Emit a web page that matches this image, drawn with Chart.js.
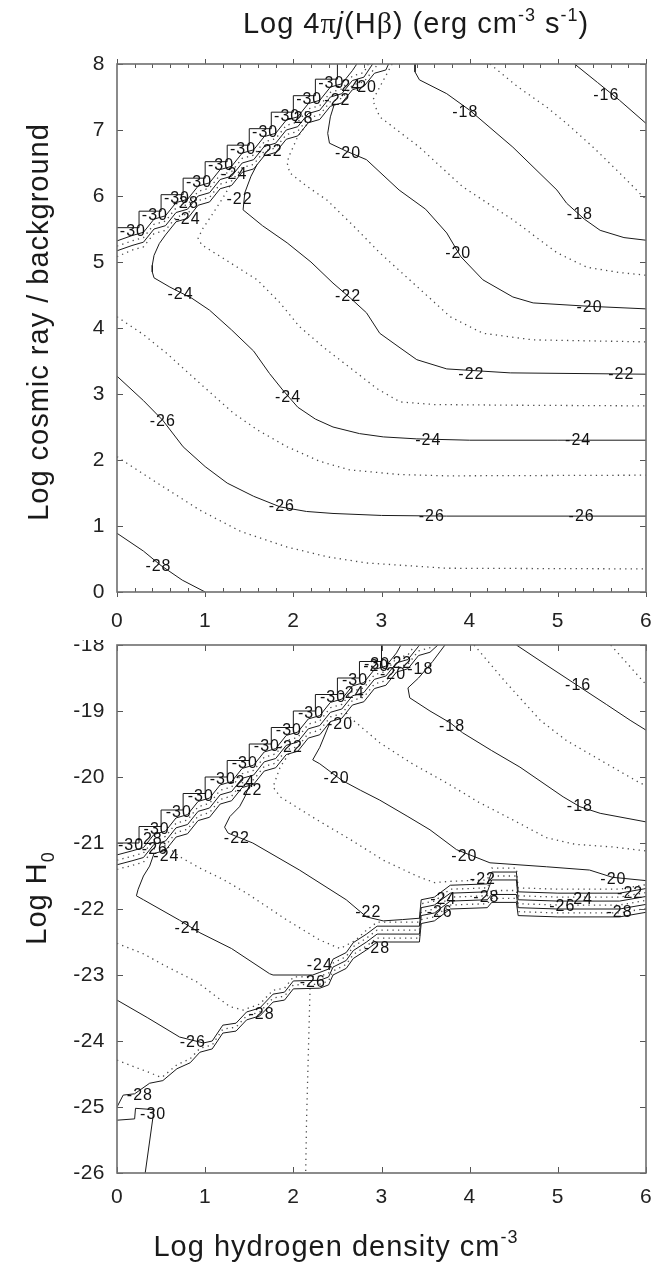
<!DOCTYPE html>
<html>
<head>
<meta charset="utf-8">
<script src="https://cdn.jsdelivr.net/npm/chart.js@4.4.0/dist/chart.umd.min.js"></script>
<style>
  body { margin: 0; background: #fff; }
  #wrap { position: relative; width: 670px; height: 1267px; }
  canvas { position: absolute; left: 0; }
</style>
</head>
<body>
<div id="wrap">
  <canvas id="topChart" width="670" height="640" style="top:0"></canvas>
  <canvas id="botChart" width="670" height="627" style="top:640px"></canvas>
</div>
<script>
// axis ticks
const xTicks = [0, 1, 2, 3, 4, 5, 6];
const xMinorTicks = [0.2, 0.4, 0.6, 0.8, 1.2, 1.4, 1.6, 1.8, 2.2, 2.4, 2.6, 2.8, 3.2, 3.4, 3.6, 3.8, 4.2, 4.4, 4.6, 4.8, 5.2, 5.4, 5.6, 5.8];
const topYTicks = [0, 1, 2, 3, 4, 5, 6, 7, 8];
const botYTicks = [-26, -25, -24, -23, -22, -21, -20, -19, -18];

// ---- top panel: log cosmic ray / background vs log n(H) ----
const top_stairs = [[0,5.52],[0.25,5.52],[0.25,5.77],[0.5,5.77],[0.5,6.02],[0.75,6.02],[0.75,6.27],[1,6.27],[1,6.52],[1.25,6.52],[1.25,6.77],[1.5,6.77],[1.5,7.02],[1.75,7.02],[1.75,7.27],[2,7.27],[2,7.52],[2.25,7.52],[2.25,7.77],[2.5,7.77],[2.5,8]];
const top_m30 = [[0,5.32],[0.17,5.40],[0.30,5.45],[0.42,5.65],[0.55,5.70],[0.67,5.90],[0.80,5.95],[0.92,6.15],[1.05,6.20],[1.17,6.40],[1.30,6.45],[1.42,6.65],[1.55,6.70],[1.67,6.90],[1.80,6.95],[1.92,7.15],[2.05,7.20],[2.17,7.40],[2.30,7.45],[2.42,7.65],[2.55,7.70],[2.67,7.90],[2.72,8.0]];
const top_m29 = [[0,5.24],[0.17,5.32],[0.30,5.37],[0.42,5.57],[0.55,5.62],[0.67,5.82],[0.80,5.87],[0.92,6.07],[1.05,6.12],[1.17,6.32],[1.30,6.37],[1.42,6.57],[1.55,6.62],[1.67,6.82],[1.80,6.87],[1.92,7.07],[2.05,7.12],[2.17,7.32],[2.30,7.37],[2.42,7.57],[2.55,7.62],[2.67,7.82],[2.80,7.87],[2.85,8.0]];
const top_m28b = [[0,5.17],[0.17,5.25],[0.30,5.30],[0.42,5.50],[0.55,5.55],[0.67,5.75],[0.80,5.80],[0.92,6.00],[1.05,6.05],[1.17,6.25],[1.30,6.30],[1.42,6.50],[1.55,6.55],[1.67,6.75],[1.80,6.80],[1.92,7.00],[2.05,7.05],[2.17,7.25],[2.30,7.30],[2.42,7.50],[2.55,7.55],[2.67,7.75],[2.80,7.80],[2.90,8.0]];
const top_m27b = [[0,5.08],[0.17,5.18],[0.30,5.23],[0.42,5.43],[0.55,5.48],[0.67,5.68],[0.80,5.73],[0.92,5.93],[1.05,5.98],[1.17,6.18],[1.30,6.23],[1.42,6.43],[1.55,6.48],[1.67,6.68],[1.80,6.73],[1.92,6.93],[2.05,6.98],[2.17,7.18],[2.30,7.23],[2.42,7.43],[2.55,7.48],[2.67,7.68],[2.80,7.73],[2.92,7.93],[2.96,8.0]];
const top_m24 = [[3.08,8],[3.05,7.91],[2.92,7.86],[2.80,7.66],[2.67,7.61],[2.55,7.41],[2.42,7.36],[2.30,7.16],[2.17,7.11],[2.05,6.91],[1.92,6.86],[1.80,6.66],[1.67,6.61],[1.55,6.41],[1.42,6.36],[1.30,6.16],[1.17,6.11],[1.05,5.91],[0.92,5.86],[0.80,5.66],[0.67,5.61],[0.55,5.41],[0.48,5.28],[0.42,5.1],[0.40,4.95],[0.40,4.85],[0.42,4.76],[0.6,4.62],[0.85,4.45],[1.05,4.27],[1.3,3.97],[1.55,3.65],[1.73,3.31],[1.88,3.06],[2.05,2.8],[2.25,2.62],[2.45,2.5],[2.75,2.4],[3.02,2.35],[3.4,2.32],[4,2.3],[5,2.3],[6,2.3]];
const top_m23 = [[1.28,6.15],[1.2,5.97],[1.08,5.72],[0.97,5.5],[0.92,5.36],[0.96,5.26],[1.2,5.06],[1.59,4.73],[1.85,4.38],[2.07,4.02],[2.35,3.7],[2.68,3.36],[2.95,3.08],[3.21,2.88],[3.6,2.84],[4.5,2.83],[6,2.82]];
const top_m22 = [[1.59,6.48],[1.52,6.3],[1.45,6.05],[1.43,5.79],[1.65,5.55],[1.93,5.29],[2.2,5.0],[2.45,4.68],[2.65,4.45],[2.83,4.23],[2.98,3.92],[3.21,3.7],[3.4,3.52],[3.74,3.38],[4.46,3.32],[6,3.3]];
const top_m21 = [[2.15,7.08],[2.05,6.9],[1.95,6.6],[1.93,6.5],[1.96,6.35],[2.15,6.15],[2.38,5.94],[2.68,5.55],[2.98,5.14],[3.36,4.68],[3.78,4.17],[4.15,3.92],[4.72,3.82],[6,3.79]];
const top_m20 = [[2.46,7.37],[2.42,7.2],[2.39,6.95],[2.41,6.8],[2.6,6.68],[2.83,6.55],[3.2,6.09],[3.5,5.8],[3.74,5.44],[3.9,5.08],[4.15,4.73],[4.49,4.47],[4.72,4.38],[5.34,4.33],[6,4.29]];
const top_m19 = [[3.12,8],[3.0,7.7],[2.9,7.45],[2.98,7.2],[3.43,6.74],[3.92,6.14],[4.49,5.64],[4.99,5.14],[5.33,4.92],[5.7,4.84],[6,4.8]];
const top_m18 = [[3.38,8],[3.38,7.88],[3.43,7.76],[3.74,7.55],[4.0,7.3],[4.49,6.74],[4.99,6.09],[5.1,5.89],[5.3,5.65],[5.48,5.48],[5.75,5.37],[6,5.33]];
const top_m17 = [[4.23,8],[4.55,7.65],[4.87,7.35],[5.1,7.1],[5.4,6.74],[5.7,6.35],[5.93,6.04],[6,5.95]];
const top_m16 = [[5.19,8],[5.45,7.72],[5.7,7.45],[6,7.1]];
const top_m25 = [[0,4.17],[0.3,3.9],[0.56,3.62],[0.95,3.15],[1.32,2.71],[1.6,2.45],[1.93,2.2],[2.3,1.98],[2.64,1.85],[3.2,1.78],[3.74,1.76],[6,1.77]];
const top_m26 = [[0,3.27],[0.3,2.9],[0.52,2.6],[0.75,2.2],[1.0,1.9],[1.25,1.65],[1.55,1.45],[1.85,1.29],[2.15,1.22],[2.45,1.19],[3.0,1.16],[3.74,1.15],[6,1.15]];
const top_m27 = [[0,2.05],[0.4,1.7],[0.94,1.24],[1.4,0.92],[1.93,0.68],[2.4,0.53],[2.83,0.44],[3.74,0.36],[6,0.35]];
const top_m28 = [[0,0.89],[0.3,0.62],[0.5,0.4],[0.74,0.18],[1.0,0]];

const topLabels = [
  ['-16',5.55,7.52],
  ['-18',3.95,7.27],['-18',5.25,5.72],
  ['-20',2.62,6.65],['-20',3.87,5.12],['-20',5.36,4.31],
  ['-22',1.39,5.94],['-22',2.62,4.47],['-22',4.02,3.3],['-22',5.72,3.3],
  ['-24',0.72,4.5],['-24',1.94,2.94],['-24',3.53,2.3],['-24',5.23,2.3],
  ['-26',0.52,2.58],['-26',1.87,1.29],['-26',3.57,1.15],['-26',5.27,1.15],
  ['-28',0.47,0.38],
  ['-30',0.18,5.46],['-30',0.43,5.71],['-30',0.68,5.96],['-30',0.93,6.21],['-30',1.18,6.46],
  ['-30',1.43,6.71],['-30',1.68,6.96],['-30',1.93,7.21],['-30',2.18,7.46],['-30',2.43,7.71],
  ['-28',0.78,5.88],['-24',0.8,5.64],['-24',1.33,6.33],['-22',1.73,6.67],['-28',2.08,7.18],
  ['-22',2.5,7.45],['-24',2.62,7.66],['-20',2.8,7.64]
];

// ---- bottom panel: log H0 vs log n(H) ----
const bot_stairs = [[0,-21],[0.25,-21],[0.25,-20.75],[0.5,-20.75],[0.5,-20.5],[0.75,-20.5],[0.75,-20.25],[1,-20.25],[1,-20],[1.25,-20],[1.25,-19.75],[1.5,-19.75],[1.5,-19.5],[1.75,-19.5],[1.75,-19.25],[2,-19.25],[2,-19],[2.25,-19],[2.25,-18.75],[2.5,-18.75],[2.5,-18.5],[2.75,-18.5],[2.75,-18.25],[3,-18.25],[3,-18]];
const bot_m30b = [[0,-21.18],[0.17,-21.12],[0.30,-21.07],[0.42,-20.87],[0.55,-20.82],[0.67,-20.62],[0.80,-20.57],[0.92,-20.37],[1.05,-20.32],[1.17,-20.12],[1.30,-20.07],[1.42,-19.87],[1.55,-19.82],[1.67,-19.62],[1.80,-19.57],[1.92,-19.37],[2.05,-19.32],[2.17,-19.12],[2.30,-19.07],[2.42,-18.87],[2.55,-18.82],[2.67,-18.62],[2.80,-18.57],[2.92,-18.37],[3.05,-18.32],[3.17,-18.12],[3.22,-18.0]];
const bot_m29b = [[0,-21.26],[0.17,-21.20],[0.30,-21.15],[0.42,-20.95],[0.55,-20.90],[0.67,-20.70],[0.80,-20.65],[0.92,-20.45],[1.05,-20.40],[1.17,-20.20],[1.30,-20.15],[1.42,-19.95],[1.55,-19.90],[1.67,-19.70],[1.80,-19.65],[1.92,-19.45],[2.05,-19.40],[2.17,-19.20],[2.30,-19.15],[2.42,-18.95],[2.55,-18.90],[2.67,-18.70],[2.80,-18.65],[2.92,-18.45],[3.05,-18.40],[3.17,-18.20],[3.30,-18.15],[3.38,-18.0]];
const bot_m28b = [[0,-21.33],[0.17,-21.27],[0.30,-21.22],[0.42,-21.02],[0.55,-20.97],[0.67,-20.77],[0.80,-20.72],[0.92,-20.52],[1.05,-20.47],[1.17,-20.27],[1.30,-20.22],[1.42,-20.02],[1.55,-19.97],[1.67,-19.77],[1.80,-19.72],[1.92,-19.52],[2.05,-19.47],[2.17,-19.27],[2.30,-19.22],[2.42,-19.02],[2.55,-18.97],[2.67,-18.77],[2.80,-18.72],[2.92,-18.52],[3.05,-18.47],[3.17,-18.27],[3.30,-18.22],[3.42,-18.02],[3.43,-18.0]];
const bot_m27b = [[0,-21.4],[0.17,-21.34],[0.30,-21.29],[0.42,-21.09],[0.55,-21.04],[0.67,-20.84],[0.80,-20.79],[0.92,-20.59],[1.05,-20.54],[1.17,-20.34],[1.30,-20.29],[1.42,-20.09],[1.55,-20.04],[1.67,-19.84],[1.80,-19.79],[1.92,-19.59],[2.05,-19.54],[2.17,-19.34],[2.30,-19.29],[2.42,-19.09],[2.55,-19.04],[2.67,-18.84],[2.80,-18.79],[2.92,-18.59],[3.05,-18.54],[3.17,-18.34],[3.30,-18.29],[3.42,-18.09],[3.55,-18.04],[3.6,-18.0]];
const bot_m24 = [[3.64,-18],[3.55,-18.11],[3.42,-18.16],[3.30,-18.36],[3.17,-18.41],[3.05,-18.61],[2.92,-18.66],[2.80,-18.86],[2.67,-18.91],[2.55,-19.11],[2.42,-19.16],[2.30,-19.36],[2.17,-19.41],[2.05,-19.61],[1.92,-19.66],[1.80,-19.86],[1.67,-19.91],[1.55,-20.11],[1.42,-20.16],[1.30,-20.36],[1.17,-20.41],[1.05,-20.61],[0.92,-20.66],[0.80,-20.86],[0.67,-20.91],[0.55,-21.11],[0.42,-21.16],[0.37,-21.35],[0.3,-21.5],[0.24,-21.7],[0.22,-21.8],[0.3,-21.86],[0.71,-22.17],[0.94,-22.36],[1.3,-22.6],[1.73,-22.98],[1.77,-23.0],[2.22,-23.0],[2.3,-22.96],[2.4,-22.91],[2.45,-22.76],[2.6,-22.66],[2.68,-22.51],[2.83,-22.38],[2.95,-22.26],[3.43,-22.26],[3.45,-21.98],[3.6,-21.94],[3.78,-21.76],[4.2,-21.74],[4.25,-21.56],[4.53,-21.56],[4.55,-21.86],[5,-21.88],[5.7,-21.88],[6,-21.81]];
const bot_m23 = [[0.58,-21.06],[0.7,-21.2],[0.94,-21.38],[1.2,-21.55],[1.47,-21.76],[1.93,-22.17],[2.3,-22.47],[2.53,-22.6],[2.7,-22.48],[2.83,-22.32],[2.95,-22.2],[3.43,-22.2],[3.45,-21.92],[3.6,-21.88],[3.78,-21.7],[4.2,-21.68],[4.25,-21.5],[4.53,-21.5],[4.55,-21.8],[5,-21.82],[5.7,-21.82],[6,-21.75]];
const bot_m22 = [[1.5,-20.13],[1.45,-20.3],[1.39,-20.45],[1.28,-20.6],[1.22,-20.76],[1.26,-20.85],[1.54,-21.0],[2.07,-21.41],[2.6,-21.86],[2.83,-22.12],[3.02,-22.18],[3.24,-22.16],[3.43,-22.14],[3.45,-21.86],[3.6,-21.82],[3.78,-21.64],[4.2,-21.62],[4.25,-21.44],[4.53,-21.44],[4.55,-21.74],[5,-21.76],[5.7,-21.76],[6,-21.69]];
const bot_m21 = [[1.95,-19.65],[1.85,-19.85],[1.77,-20.15],[1.85,-20.3],[2.27,-20.65],[2.65,-20.95],[3.02,-21.26],[3.4,-21.5],[3.6,-21.6],[3.78,-21.58],[4.2,-21.56],[4.25,-21.38],[4.53,-21.38],[4.55,-21.68],[5,-21.7],[5.7,-21.7],[6,-21.63]];
const bot_m20 = [[2.42,-19.16],[2.38,-19.29],[2.3,-19.55],[2.22,-19.74],[2.3,-19.8],[2.55,-20.05],[2.76,-20.2],[2.98,-20.35],[3.3,-20.6],[3.55,-20.8],[3.85,-21.1],[4.23,-21.3],[4.87,-21.36],[5.36,-21.41],[5.62,-21.52],[6,-21.57]];
const bot_m19 = [[2.6,-19.03],[2.68,-19.14],[2.98,-19.48],[3.35,-19.8],[3.74,-20.09],[4.1,-20.38],[4.49,-20.65],[4.87,-20.92],[5.2,-21.02],[5.62,-21.06],[6,-21.12]];
const bot_m18 = [[3.72,-18],[3.58,-18.25],[3.42,-18.5],[3.3,-18.65],[3.32,-18.8],[3.55,-19.0],[3.78,-19.18],[3.92,-19.33],[4.25,-19.6],[4.57,-19.85],[5.06,-20.3],[5.25,-20.45],[5.48,-20.55],[6,-20.68]];
const bot_m17 = [[4.05,-18],[4.4,-18.55],[4.8,-19.14],[5.1,-19.45],[5.45,-19.72],[5.93,-20.09],[6,-20.13]];
const bot_m16 = [[4.53,-18],[4.9,-18.33],[5.23,-18.62],[5.55,-18.9],[5.82,-19.14],[6,-19.29]];
const bot_m15 = [[5.6,-18],[5.82,-18.33],[6,-18.6]];
const bot_m25 = [[0,-22.52],[0.3,-22.68],[0.56,-22.87],[0.9,-23.1],[1.28,-23.48],[1.43,-23.53],[1.62,-23.44],[1.77,-23.23],[1.9,-23.2],[2.0,-23.03],[2.3,-23.02],[2.4,-22.97],[2.45,-22.82],[2.6,-22.72],[2.68,-22.57],[2.83,-22.44],[2.95,-22.32],[3.43,-22.32],[3.45,-22.04],[3.6,-22.0],[3.78,-21.82],[4.2,-21.8],[4.25,-21.72],[4.53,-21.72],[4.55,-21.92],[5,-21.94],[5.7,-21.94],[6,-21.87]];
const bot_m26 = [[0,-23.38],[0.35,-23.65],[0.71,-23.94],[0.98,-24.03],[1.08,-24.0],[1.2,-23.76],[1.35,-23.73],[1.47,-23.56],[1.62,-23.5],[1.77,-23.29],[1.9,-23.26],[2.0,-23.09],[2.3,-23.08],[2.4,-23.03],[2.45,-22.88],[2.6,-22.78],[2.68,-22.63],[2.83,-22.5],[2.95,-22.38],[3.43,-22.38],[3.45,-22.1],[3.6,-22.06],[3.78,-21.88],[4.2,-21.86],[4.25,-21.78],[4.53,-21.78],[4.55,-21.98],[5,-22.0],[5.7,-22.0],[6,-21.93]];
const bot_m27 = [[0,-24.29],[0.37,-24.48],[0.5,-24.55],[0.52,-24.54],[0.68,-24.36],[0.83,-24.27],[0.94,-24.11],[1.08,-24.06],[1.2,-23.82],[1.35,-23.79],[1.47,-23.62],[1.62,-23.56],[1.77,-23.35],[1.9,-23.32],[2.0,-23.15],[2.3,-23.14],[2.4,-23.09],[2.45,-22.94],[2.6,-22.84],[2.68,-22.69],[2.83,-22.56],[2.95,-22.44],[3.43,-22.44],[3.45,-22.16],[3.6,-22.12],[3.78,-21.94],[4.2,-21.92],[4.25,-21.84],[4.53,-21.84],[4.55,-22.04],[5,-22.06],[5.7,-22.06],[6,-21.99]];
const bot_m28 = [[0,-25.0],[0.07,-24.82],[0.2,-24.8],[0.37,-24.64],[0.52,-24.6],[0.68,-24.42],[0.83,-24.33],[0.94,-24.17],[1.08,-24.12],[1.2,-23.88],[1.35,-23.85],[1.47,-23.68],[1.62,-23.62],[1.77,-23.41],[1.9,-23.38],[2.0,-23.21],[2.3,-23.2],[2.4,-23.15],[2.45,-23.0],[2.6,-22.9],[2.68,-22.75],[2.83,-22.62],[2.95,-22.5],[3.43,-22.5],[3.45,-22.22],[3.6,-22.18],[3.78,-22.0],[4.2,-21.98],[4.25,-21.9],[4.53,-21.9],[4.55,-22.1],[5,-22.12],[5.7,-22.12],[6,-22.05]];
const bot_m29 = [[2.19,-23.2],[2.17,-24.2],[2.15,-25.2],[2.14,-26]];
const bot_m30 = [[0,-25.2],[0.2,-25.18],[0.21,-25.02],[0.42,-25.04],[0.32,-26]];

const botLabels = [
  ['-16',5.23,-18.62],
  ['-18',3.44,-18.38],['-18',3.8,-19.24],['-18',5.25,-20.45],
  ['-20',2.53,-19.21],['-20',2.49,-20.02],['-20',3.94,-21.2],['-20',5.63,-21.55],['-20',2.94,-18.33],['-20',3.13,-18.45],
  ['-22',1.5,-20.2],['-22',1.36,-20.93],['-22',2.85,-22.06],['-22',1.96,-19.56],['-22',3.2,-18.28],['-22',4.15,-21.56],['-22',5.82,-21.76],
  ['-24',0.56,-21.2],['-24',0.8,-22.3],['-24',1.42,-20.09],['-24',2.66,-18.74],['-24',2.3,-22.85],['-24',3.7,-21.86],['-24',5.25,-21.86],
  ['-26',0.43,-21.1],['-26',0.86,-24.03],['-26',2.22,-23.12],['-26',3.66,-22.06],['-26',5.05,-21.97],
  ['-28',0.37,-20.95],['-28',0.26,-24.82],['-28',1.64,-23.6],['-28',2.95,-22.6],['-28',4.19,-21.83],['-28',5.7,-22.06],
  ['-30',0.41,-25.12],
  ['-30',0.16,-21.04],['-30',0.45,-20.79],['-30',0.7,-20.54],['-30',0.95,-20.29],['-30',1.2,-20.04],['-30',1.45,-19.79],
  ['-30',1.7,-19.54],['-30',1.95,-19.29],['-30',2.2,-19.04],['-30',2.45,-18.79],['-30',2.7,-18.54],['-30',2.95,-18.29]
];

const topSeries = [
  [-30, top_stairs], [-30, top_m30], [-29, top_m29], [-28, top_m28b], [-27, top_m27b],
  [-24, top_m24], [-23, top_m23], [-22, top_m22], [-21, top_m21], [-20, top_m20],
  [-19, top_m19], [-18, top_m18], [-17, top_m17], [-16, top_m16],
  [-25, top_m25], [-26, top_m26], [-27, top_m27], [-28, top_m28]
];
const botSeries = [
  [-30, bot_stairs], [-30, bot_m30b], [-29, bot_m29b], [-28, bot_m28b], [-27, bot_m27b],
  [-24, bot_m24], [-23, bot_m23], [-22, bot_m22], [-21, bot_m21], [-20, bot_m20],
  [-19, bot_m19], [-18, bot_m18], [-17, bot_m17], [-16, bot_m16], [-15, bot_m15],
  [-25, bot_m25], [-26, bot_m26], [-27, bot_m27], [-28, bot_m28], [-29, bot_m29], [-30, bot_m30]
];

const FONT = '"Liberation Sans", Arial, Helvetica, sans-serif';
const SERIF = '"Liberation Serif", "Times New Roman", serif';

function toDataset(level, pts) {
  const dotted = Math.abs(level) % 2 === 1;
  return {
    data: pts.map(p => ({ x: p[0], y: p[1] })),
    showLine: true,
    pointRadius: 0,
    pointHoverRadius: 0,
    fill: false,
    tension: 0,
    borderColor: dotted ? '#4a4a4a' : '#1a1a1a',
    borderWidth: dotted ? 1.3 : 1,
    borderDash: dotted ? [1.3, 4.2] : [],
    clip: 0
  };
}

function richWidth(ctx, pieces) {
  let w = 0;
  pieces.forEach(p => { ctx.font = p.font; w += ctx.measureText(p.t).width; });
  return w;
}
function drawRich(ctx, pieces, cx, y) {
  let x = cx - richWidth(ctx, pieces) / 2;
  pieces.forEach(p => {
    ctx.font = p.font;
    ctx.fillText(p.t, x, y + (p.dy || 0));
    x += ctx.measureText(p.t).width;
  });
}

// frame, inward ticks, tick labels, contour labels and titles
function decor(cfg) {
  return {
    id: 'decor',
    afterDatasetsDraw(chart) {
      const { ctx, chartArea: a, scales: { x, y } } = chart;
      ctx.save();
      ctx.strokeStyle = '#555';
      ctx.lineWidth = 1;
      ctx.beginPath();
      xTicks.forEach(v => {
        const px = Math.round(x.getPixelForValue(v)) + 0.5;
        if (cfg.minor) {
          ctx.moveTo(px, a.bottom); ctx.lineTo(px, a.bottom + 5);
          ctx.moveTo(px, a.top); ctx.lineTo(px, a.top - 5);
        } else {
          ctx.moveTo(px, a.bottom); ctx.lineTo(px, a.bottom - 6);
          ctx.moveTo(px, a.top); ctx.lineTo(px, a.top + 6);
        }
      });
      if (cfg.minor) {
        xMinorTicks.forEach(v => {
          const px = Math.round(x.getPixelForValue(v)) + 0.5;
          ctx.moveTo(px, a.bottom); ctx.lineTo(px, a.bottom - 4);
          ctx.moveTo(px, a.top); ctx.lineTo(px, a.top + 4);
        });
      }
      cfg.yTicks.forEach(v => {
        const py = Math.round(y.getPixelForValue(v)) + 0.5;
        ctx.moveTo(a.left, py); ctx.lineTo(a.left + 6, py);
        ctx.moveTo(a.right, py); ctx.lineTo(a.right - 6, py);
      });
      ctx.stroke();
      ctx.strokeStyle = '#6e6e6e';
      ctx.lineWidth = 1.6;
      ctx.strokeRect(a.left, a.top, a.right - a.left, a.bottom - a.top);

      // tick labels
      ctx.fillStyle = '#222';
      ctx.letterSpacing = '0.5px';
      ctx.font = '21px ' + FONT;
      ctx.textAlign = 'center';
      ctx.textBaseline = 'middle';
      xTicks.forEach(v => ctx.fillText(String(v), x.getPixelForValue(v), a.bottom + cfg.xLabelGap));
      ctx.textAlign = 'right';
      cfg.yTicks.forEach(v => ctx.fillText(String(v), a.left - 12, y.getPixelForValue(v)));

      // contour labels
      ctx.letterSpacing = '1px';
      ctx.font = '16px ' + FONT;
      ctx.textAlign = 'center';
      ctx.fillStyle = '#111';
      cfg.labels.forEach(l => {
        const px = x.getPixelForValue(l[1]);
        const py = y.getPixelForValue(l[2]);
        if (px > a.left - 2 && px < a.right + 2) ctx.fillText(l[0], px, py);
      });

      // titles
      ctx.letterSpacing = '1px';
      ctx.textAlign = 'left';
      ctx.textBaseline = 'alphabetic';
      ctx.fillStyle = '#1a1a1a';
      const big = '29px ' + FONT, small = '18px ' + FONT;
      if (cfg.top) {
        drawRich(ctx, [
          { t: 'Log 4', font: big }, { t: 'π', font: '30px ' + SERIF }, { t: 'j', font: 'italic ' + big },
          { t: '(H', font: big }, { t: 'β', font: '30px ' + SERIF }, { t: ') (erg cm', font: big },
          { t: '-3', font: small, dy: -12 }, { t: ' s', font: big }, { t: '-1', font: small, dy: -12 }, { t: ')', font: big }
        ], 416, 33);
      }
      ctx.save();
      ctx.translate(cfg.yTitleX, cfg.yTitleY);
      ctx.rotate(-Math.PI / 2);
      drawRich(ctx, cfg.yTitle.map(p => ({ t: p.t, font: p.sub ? small : big, dy: p.sub ? 8 : 0 })), 0, 0);
      ctx.restore();
      if (cfg.xTitle) {
        drawRich(ctx, [
          { t: 'Log hydrogen density cm', font: big }, { t: '-3', font: small, dy: -13 }
        ], 336, cfg.xTitleY);
      }
      ctx.restore();
    }
  };
}

function makeChart(id, series, yMin, yMax, padTop, xAxisH, cfg) {
  return new Chart(document.getElementById(id), {
    type: 'scatter',
    data: { datasets: series.map(s => toDataset(s[0], s[1])) },
    options: {
      responsive: false,
      animation: false,
      events: [],
      layout: { padding: { left: 0, right: 24, top: padTop, bottom: 0 } },
      plugins: { legend: { display: false }, tooltip: { enabled: false } },
      scales: {
        x: {
          type: 'linear', min: 0, max: 6,
          ticks: { display: false }, grid: { display: false, drawTicks: false }, border: { display: false },
          afterFit: s => { s.height = xAxisH; }
        },
        y: {
          type: 'linear', min: yMin, max: yMax,
          ticks: { display: false }, grid: { display: false, drawTicks: false }, border: { display: false },
          afterFit: s => { s.width = 117; }
        }
      }
    },
    plugins: [decor(cfg)]
  });
}

makeChart('topChart', topSeries, 0, 8, 64, 48, {
  minor: true, yTicks: topYTicks, labels: topLabels, xLabelGap: 29, top: true,
  yTitle: [{ t: 'Log cosmic ray / background' }], yTitleX: 48, yTitleY: 322
});
makeChart('botChart', botSeries, -26, -18, 5, 94, {
  minor: false, yTicks: botYTicks, labels: botLabels, xLabelGap: 24,
  yTitle: [{ t: 'Log H' }, { t: '0', sub: true }], yTitleX: 46, yTitleY: 258,
  xTitle: true, xTitleY: 616
});
</script>
</body>
</html>
